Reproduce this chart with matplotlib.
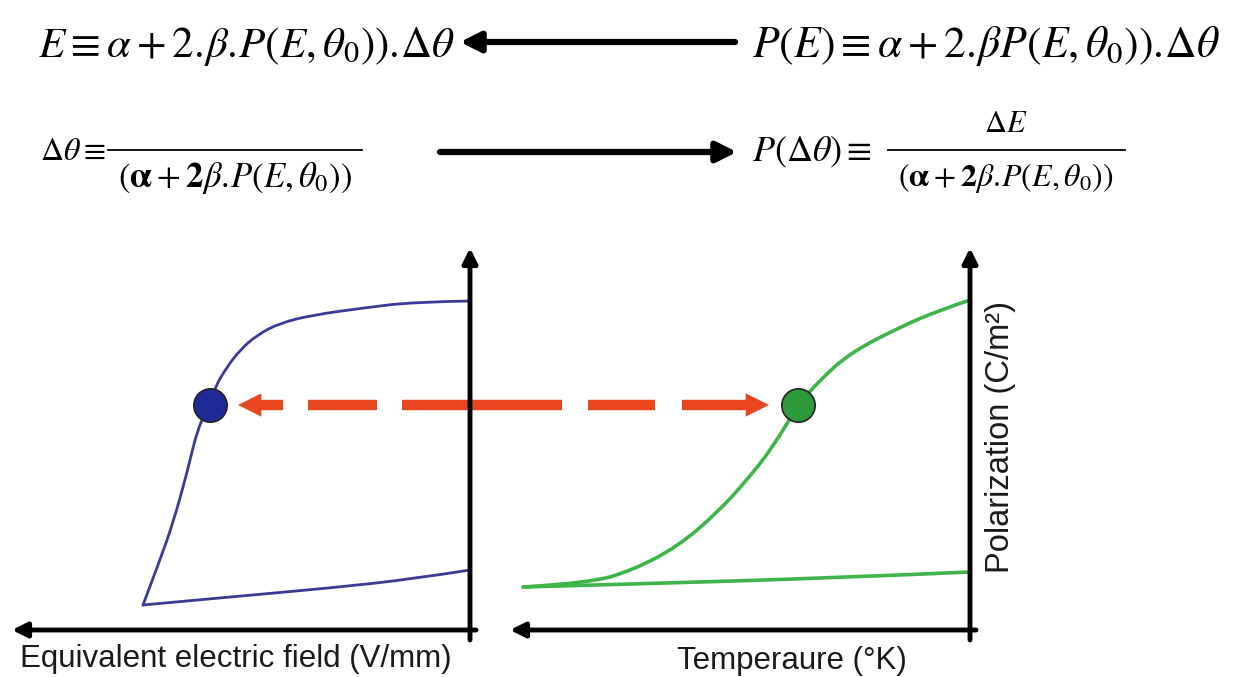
import matplotlib
matplotlib.use('Agg')
import matplotlib.pyplot as plt
from matplotlib.path import Path
from matplotlib.patches import PathPatch

plt.rcParams['mathtext.fontset'] = 'stix'
plt.rcParams['font.family'] = ['Liberation Sans', 'DejaVu Sans']

# ---- curve data (picture coordinates, y grows downward) ----
# blue loop: upper branch from the axis down to the corner, then lower branch
blue_up_x = [470, 413, 363, 313, 280, 257, 240, 227, 215, 210, 198, 187, 173, 160, 143]
blue_up_y = [301, 302, 308, 315, 323, 335, 350, 367, 387, 405, 427, 473, 523, 560, 605]
blue_lo_x = [143, 230, 330, 413, 470]
blue_lo_y = [605, 597, 588, 579, 570]

green_up_x = [523, 590, 633, 677, 717, 747, 773, 798, 820, 850, 900, 940, 970]
green_up_y = [587, 583, 570, 547, 513, 480, 447, 405, 380, 353, 327, 310, 300]
green_lo_x = [523, 633, 833, 970]
green_lo_y = [587, 584, 578, 572]

blue_dot = (210, 405)
green_dot = (798, 405)

# red dashed link: dash segments between the two dots
dash_starts = [255, 308, 402, 588, 682]
dash_ends = [283, 377, 562, 655, 748]
link_y = 405

x_label = "Equivalent electric field (V/mm)"
t_label = "Temperaure (\u00b0K)"
p_label = "Polarization (C/m\u00b2)"

eq_top_left = r'$E \equiv \alpha + 2.\!\beta.\!P(E,\theta_0)).\!\Delta\theta$'
eq_top_right = r'$P(E) \equiv \alpha + 2.\!\beta P(E,\theta_0)).\!\Delta\theta$'
eq_den = r'$(\mathbf{\alpha} + \mathbf{2}\beta.\!P(E,\theta_0))$'


def smooth_path(xs, ys):
    # quadratic bezier through midpoints, drawn by matplotlib
    pts = list(zip(xs, ys))
    verts = [pts[0]]
    codes = [Path.MOVETO]
    for i in range(1, len(pts) - 1):
        mid = ((pts[i][0] + pts[i + 1][0]) / 2, (pts[i][1] + pts[i + 1][1]) / 2)
        if i == len(pts) - 2:
            mid = pts[-1]
        verts += [pts[i], mid]
        codes += [Path.CURVE3, Path.CURVE3]
    return Path(verts, codes)


fig = plt.figure(figsize=(12.42, 6.77), dpi=100)
ax = fig.add_axes([0, 0, 1, 1])
ax.set_xlim(0, 1242)
ax.set_ylim(677, 0)
ax.axis('off')

# ---- equations ----
ax.text(38, 46, eq_top_left, fontsize=31, ha='left', va='center')
ax.text(752, 46, eq_top_right, fontsize=31.5, ha='left', va='center')
ax.annotate('', xy=(460, 42), xytext=(735, 42),
            arrowprops=dict(arrowstyle='-|>', lw=4.5, color='black',
                            mutation_scale=30, shrinkA=0, shrinkB=0))

ax.text(40, 152, r'$\Delta\theta \equiv$', fontsize=23, ha='left', va='center')
ax.plot([108, 362], [150, 150], color='black', lw=1.3)
ax.text(235, 178, eq_den, fontsize=25, ha='center', va='center')

ax.annotate('', xy=(737, 152), xytext=(440, 152),
            arrowprops=dict(arrowstyle='-|>', lw=4.5, color='black',
                            mutation_scale=30, shrinkA=0, shrinkB=0))

ax.text(752, 152, r'$P(\Delta\theta) \equiv$', fontsize=26, ha='left', va='center')
ax.plot([888, 1125], [150, 150], color='black', lw=1.3)
ax.text(1006, 124, r'$\Delta E$', fontsize=22, ha='center', va='center')
ax.text(1006, 178, eq_den, fontsize=23, ha='center', va='center')

# ---- axes of the two sketches ----
arrow_kw = dict(arrowstyle='-|>', lw=3.5, color='black',
                mutation_scale=22, shrinkA=0, shrinkB=0)
for x0 in [470, 970]:
    ax.annotate('', xy=(x0, 248), xytext=(x0, 640), arrowprops=arrow_kw)
ax.annotate('', xy=(12, 630), xytext=(476, 630), arrowprops=arrow_kw)
ax.annotate('', xy=(510, 630), xytext=(976, 630), arrowprops=arrow_kw)

# ---- curves ----
for xs, ys, col, lw in [(blue_up_x, blue_up_y, '#3b3a96', 2.0),
                        (blue_lo_x, blue_lo_y, '#3b3a96', 2.0),
                        (green_up_x, green_up_y, '#3db54a', 2.6),
                        (green_lo_x, green_lo_y, '#3db54a', 2.6)]:
    ax.add_patch(PathPatch(smooth_path(xs, ys), fill=False, edgecolor=col,
                           lw=lw, joinstyle='round', capstyle='round'))

# ---- red dashed link with heads ----
for s, e in zip(dash_starts, dash_ends):
    ax.plot([s, e], [link_y, link_y], color='#e8461e', lw=7.5,
            solid_capstyle='butt')
head_kw = dict(arrowstyle='-|>', lw=0, color='#e8461e',
               mutation_scale=42, shrinkA=0, shrinkB=0)
ax.annotate('', xy=(238, link_y), xytext=(264, link_y), arrowprops=head_kw)
ax.annotate('', xy=(769, link_y), xytext=(743, link_y), arrowprops=head_kw)

ax.plot(*blue_dot, 'o', ms=24, mfc='#1e2a96', mec='#222222', mew=1.2)
ax.plot(*green_dot, 'o', ms=24, mfc='#2f9a3c', mec='#222222', mew=1.2)

# ---- labels ----
ax.text(236, 659, x_label, fontsize=22.5, ha='center', va='center', color='#1a1a1a')
ax.text(792, 661, t_label, fontsize=22.5, ha='center', va='center', color='#1a1a1a')
ax.text(1000, 437, p_label, fontsize=23.5, ha='center', va='center',
        rotation=90, color='#1a1a1a')

fig.savefig('out.png', dpi=100)
